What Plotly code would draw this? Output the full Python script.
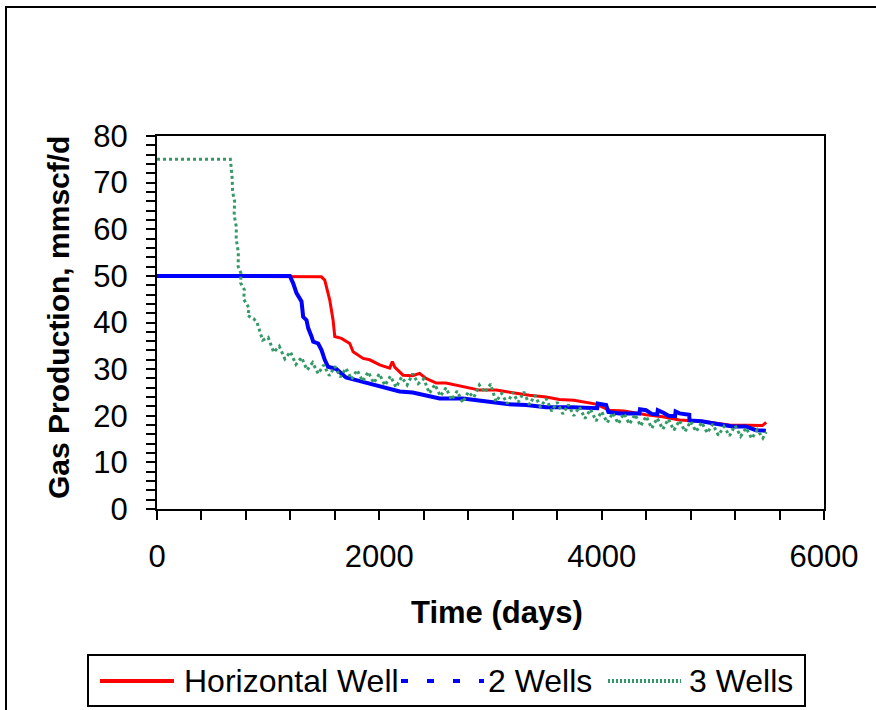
import plotly.graph_objects as go

# Gas production rate (mmscf/d) against time (days) for three well layouts
horiz_days = [0, 1479, 1509, 1554, 1584, 1599, 1659, 1734, 1764, 1854, 1913, 2003, 2093, 2117,
              2140, 2213, 2300, 2362, 2420, 2512, 2600, 2752, 2901, 3051, 3201, 3350, 3500,
              3620, 3750, 3860, 3949, 4069, 4200, 4399, 4550, 4698, 4900, 5147, 5300, 5446, 5480]
horiz_rate = [50.0, 49.8, 49.1, 44.8, 40.5, 37.0, 36.6, 35.5, 33.7, 32.3, 32.0, 30.9, 30.2, 31.6,
              30.4, 28.7, 28.6, 29.1, 28.0, 27.0, 27.0, 26.2, 25.5, 25.5, 24.9, 24.4, 24.0,
              23.5, 23.3, 22.8, 22.5, 21.2, 21.0, 20.2, 19.8, 19.1, 18.8, 18.0, 18.0, 17.9, 18.6]

two_days = [0, 1195, 1225, 1255, 1300, 1305, 1315, 1345, 1360, 1390, 1405, 1450, 1480, 1509,
            1539, 1614, 1700, 1800, 1900, 2003, 2183, 2300, 2392, 2542, 2751, 2900, 3021, 3150,
            3321, 3400, 3501, 3740, 3900, 3960, 3965, 4040, 4060, 4159, 4339, 4345, 4399, 4450,
            4500, 4505, 4560, 4600, 4660, 4665, 4700, 4788, 4790, 4900, 5000, 5100, 5177, 5297,
            5387, 5477]
two_rate = [50.0, 50.0, 48.4, 46.3, 44.5, 42.5, 41.2, 40.5, 38.8, 37.0, 35.9, 35.5, 34.1, 32.0,
            30.5, 30.0, 28.2, 27.6, 27.0, 26.3, 25.2, 25.0, 24.5, 23.7, 23.7, 23.2, 22.8, 22.5,
            22.3, 22.0, 21.8, 21.8, 21.5, 21.6, 22.6, 22.3, 20.8, 20.5, 20.5, 21.4, 21.2, 20.4,
            20.3, 21.2, 20.6, 20.0, 19.9, 20.9, 20.5, 20.2, 19.0, 18.8, 18.4, 18.0, 17.7, 17.7,
            16.9, 16.8]

# the 3-well case is noisy, so its samples swing up and down around the trend
three_days = [0, 660, 676, 680, 698, 694, 714, 712, 732, 730, 756, 752, 786, 780, 830, 815,
              870, 900, 950, 1000, 1050, 1100, 1150, 1200, 1250, 1300, 1350, 1400, 1450, 1500,
              1550, 1600, 1650, 1700, 1750, 1800, 1850, 1900, 1950, 2000, 2050, 2100, 2150,
              2200, 2250, 2300, 2350, 2400, 2450, 2500, 2550, 2600, 2650, 2700, 2750, 2800,
              2850, 2900, 2950, 3000, 3050, 3100, 3150, 3200, 3250, 3300, 3350, 3400, 3450,
              3500, 3550, 3600, 3650, 3700, 3750, 3800, 3850, 3900, 3950, 4000, 4050, 4100,
              4150, 4200, 4250, 4300, 4350, 4400, 4450, 4500, 4550, 4600, 4650, 4700, 4750,
              4800, 4850, 4900, 4950, 5000, 5050, 5100, 5150, 5200, 5250, 5300, 5350, 5400,
              5450, 5480]
three_rate = [75.0, 75.0, 71.0, 68.0, 66.0, 63.0, 60.5, 58.0, 55.0, 52.0, 50.5, 48.5, 47.0,
              45.0, 43.0, 41.5, 40.8, 40.0, 36.2, 36.8, 33.6, 34.9, 32.2, 33.7, 31.0, 32.5,
              29.8, 31.4, 29.0, 30.9, 28.6, 30.6, 28.3, 30.2, 27.8, 29.8, 27.4, 29.4, 27.0,
              29.0, 26.5, 28.5, 26.1, 28.3, 26.6, 29.0, 26.9, 27.9, 24.8, 26.7, 24.2, 26.0,
              23.4, 25.3, 22.8, 25.1, 23.9, 26.6, 25.0, 26.8, 23.0, 24.8, 22.6, 25.0, 22.9,
              25.1, 22.4, 24.4, 21.8, 23.7, 21.0, 22.9, 20.4, 22.4, 20.0, 21.9, 19.4, 21.4,
              18.9, 20.9, 18.5, 20.6, 18.3, 20.5, 18.2, 20.3, 17.8, 19.9, 17.3, 19.5, 17.1,
              19.3, 16.9, 19.0, 16.6, 18.8, 16.6, 18.6, 16.3, 18.2, 15.8, 17.7, 15.7, 17.9,
              15.6, 17.4, 15.1, 17.0, 15.2, 16.5]

series_names = ["Horizontal Well", "2 Wells", "3 Wells"]
x_ticks = [0, 2000, 4000, 6000]
y_ticks = [0, 10, 20, 30, 40, 50, 60, 70, 80]

RED = "#FF0000"
BLUE = "#0000FF"
GREEN = "#339966"
FONT = "Liberation Sans, Arial, sans-serif"

W, H = 876, 710
L, R, T, B = 157, 52, 136, 201
PW, PH = W - L - R, H - T - B


def px_x(px):
    return (px - L) / PW


def px_y(py):
    return (H - B - py) / PH


fig = go.Figure()
fig.add_trace(go.Scatter(x=horiz_days, y=horiz_rate, mode="lines", name=series_names[0],
                         line=dict(color=RED, width=3)))
fig.add_trace(go.Scatter(x=two_days, y=two_rate, mode="lines", name=series_names[1],
                         line=dict(color=BLUE, width=4)))
fig.add_trace(go.Scatter(x=three_days, y=three_rate, mode="lines", name=series_names[2],
                         line=dict(color=GREEN, width=3, dash="dot")))

axis_common = dict(
    showgrid=False, zeroline=False, showline=True, linecolor="black", linewidth=2,
    mirror=True, ticks="outside", ticklen=9, tickwidth=2, tickcolor="black",
    tickfont=dict(family=FONT, size=31, color="black"),
)
fig.update_xaxes(range=[0, 6000], tickvals=x_ticks, ticktext=[str(v) for v in x_ticks],
                 ticklabelstandoff=10,
                 minor=dict(tickvals=list(range(0, 6001, 400)), ticks="outside", ticklen=9,
                            tickwidth=2, tickcolor="black", showgrid=False),
                 **axis_common)
fig.update_yaxes(range=[0, 80], tickvals=y_ticks, ticktext=[str(v) for v in y_ticks],
                 ticklabelstandoff=12,
                 minor=dict(tickvals=list(range(0, 81, 2)), ticks="outside", ticklen=9,
                            tickwidth=2, tickcolor="black", showgrid=False),
                 **axis_common)

shapes = []
# outer chart border: top edge and left edge, running to the page edge
shapes.append(dict(type="line", xref="paper", yref="paper",
                   x0=px_x(5), x1=px_x(W), y0=px_y(7), y1=px_y(7),
                   line=dict(color="black", width=2)))
shapes.append(dict(type="line", xref="paper", yref="paper",
                   x0=px_x(6), x1=px_x(6), y0=px_y(6), y1=px_y(H),
                   line=dict(color="black", width=2)))
# legend box and line samples
ly = 681
shapes.append(dict(type="rect", xref="paper", yref="paper",
                   x0=px_x(88), x1=px_x(805), y0=px_y(655), y1=px_y(706),
                   line=dict(color="black", width=2), fillcolor="white"))
shapes.append(dict(type="line", xref="paper", yref="paper",
                   x0=px_x(100), x1=px_x(174), y0=px_y(ly), y1=px_y(ly),
                   line=dict(color=RED, width=4)))
shapes.append(dict(type="line", xref="paper", yref="paper",
                   x0=px_x(401), x1=px_x(484), y0=px_y(ly), y1=px_y(ly),
                   line=dict(color=BLUE, width=4, dash="7px,19px")))
shapes.append(dict(type="line", xref="paper", yref="paper",
                   x0=px_x(608), x1=px_x(681), y0=px_y(ly), y1=px_y(ly),
                   line=dict(color=GREEN, width=4, dash="2px,2px")))

annotations = [
    dict(text="<b>Time (days)</b>", xref="paper", yref="paper", x=px_x(497), y=px_y(612),
         xanchor="center", yanchor="middle", showarrow=False,
         font=dict(family=FONT, size=31, color="black")),
    dict(text="<b>Gas Production, mmscf/d</b>", xref="paper", yref="paper",
         x=px_x(58), y=px_y(318), xanchor="center", yanchor="middle", textangle=-90,
         showarrow=False, font=dict(family=FONT, size=30, color="black")),
]
for name, xpos in zip(series_names, [182, 486, 687]):
    annotations.append(dict(text=name, xref="paper", yref="paper", x=px_x(xpos), y=px_y(ly),
                            xanchor="left", yanchor="middle", showarrow=False,
                            font=dict(family=FONT, size=32, color="black")))

fig.update_layout(
    width=W, height=H, margin=dict(l=L, r=R, t=T, b=B),
    paper_bgcolor="white", plot_bgcolor="white", showlegend=False,
    shapes=shapes, annotations=annotations,
    font=dict(family=FONT, color="black"),
)

fig.write_html("out.html")
